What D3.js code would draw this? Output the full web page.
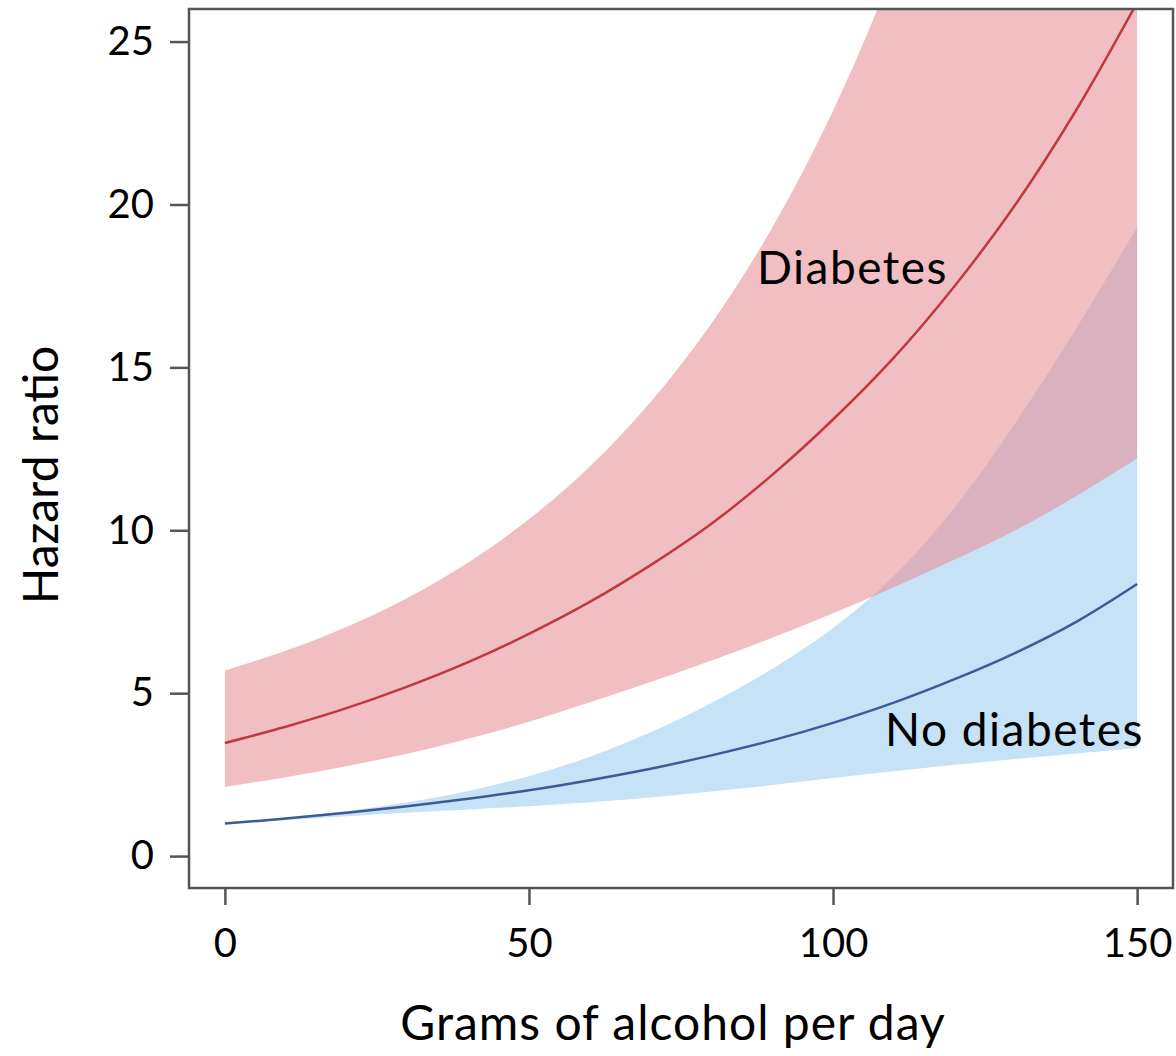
<!DOCTYPE html>
<html lang="en">
    <head>
        <meta charset="utf-8">
        <title>Hazard ratio by grams of alcohol per day</title>
        <script src="https://d3js.org/d3.v7.min.js"></script>
        <style type="text/css">
            body {
                margin: 0;
                background: #fff;
            }
            text {
                font-family: Lato, "Open Sans", sans-serif;
                fill: #000;
            }
            .axis text {
                font-size: 40px;
            }
            .axis line {
                stroke: #555;
                stroke-width: 2.5;
            }
        </style>
    </head>
    <body>
        <script type="text/javascript">
        //Data
        const grams = [0, 10, 20, 30, 40, 50, 60, 70, 80, 90, 100, 110, 120, 130, 140, 150];

        const diabetesHR = [3.47, 3.97, 4.54, 5.2, 5.95, 6.82, 7.8, 8.93, 10.2, 11.7, 13.4, 15.3, 17.5, 20.0, 22.9, 26.2];
        const diabetesLow = [2.12, 2.42, 2.76, 3.14, 3.6, 4.12, 4.72, 5.34, 6.0, 6.7, 7.45, 8.25, 9.1, 10.0, 11.05, 12.2];
        const diabetesHigh = [5.7, 6.3, 7.03, 7.92, 9.01, 10.34, 11.96, 13.94, 16.35, 19.29, 22.88, 27.26, 32.6, 39.1, 47.0, 56.6];

        const noDiabetesHR = [1.0, 1.15, 1.33, 1.53, 1.76, 2.02, 2.33, 2.68, 3.09, 3.55, 4.09, 4.71, 5.43, 6.24, 7.19, 8.35];
        const noDiabetesLow = [1.0, 1.1, 1.22, 1.33, 1.43, 1.53, 1.65, 1.8, 1.98, 2.18, 2.4, 2.6, 2.8, 2.98, 3.15, 3.32];
        const noDiabetesHigh = [1.0, 1.17, 1.38, 1.65, 2.0, 2.45, 3.05, 3.8, 4.7, 5.75, 7.0, 8.6, 10.7, 13.3, 16.2, 19.3];

        const xTicks = [0, 50, 100, 150];
        const yTicks = [0, 5, 10, 15, 20, 25];

        //Constants
        const w = 1176;
        const h = 1056;
        const plotLeft = 189, plotRight = 1173, plotTop = 9, plotBottom = 888;

        const series = [
            { name: "No diabetes", hr: noDiabetesHR, lo: noDiabetesLow, hi: noDiabetesHigh,
              band: "#c5e2f7", bandOpacity: 1, line: "#3d5a96" },
            { name: "Diabetes", hr: diabetesHR, lo: diabetesLow, hi: diabetesHigh,
              band: "#e8929a", bandOpacity: 0.6, line: "#c0393f" }
        ];

        //Scales
        const xScale = d3.scaleLinear()
                        .domain([-5.9, 155.9])
                        .range([plotLeft, plotRight]);

        const yScale = d3.scaleLinear()
                        .domain([-0.98, 26.0])
                        .range([plotBottom, plotTop]);

        //SVG
        const svg = d3.select("body")
                      .append("svg")
                      .attr("width", w)
                      .attr("height", h);

        svg.append("clipPath")
           .attr("id", "plotclip")
           .append("rect")
           .attr("x", plotLeft)
           .attr("y", plotTop)
           .attr("width", plotRight - plotLeft)
           .attr("height", plotBottom - plotTop);

        const plot = svg.append("g").attr("clip-path", "url(#plotclip)");

        //Bands
        const area = (s) => d3.area()
            .x((d, i) => xScale(grams[i]))
            .y0((d, i) => yScale(s.lo[i]))
            .y1((d, i) => yScale(s.hi[i]))
            .curve(d3.curveCatmullRom);

        series.forEach(s => {
            plot.append("path")
                .datum(grams)
                .attr("d", area(s))
                .attr("fill", s.band)
                .attr("fill-opacity", s.bandOpacity);
        });

        //Lines
        series.forEach(s => {
            const line = d3.line()
                .x((d, i) => xScale(grams[i]))
                .y((d, i) => yScale(s.hr[i]))
                .curve(d3.curveCatmullRom);
            plot.append("path")
                .datum(grams)
                .attr("d", line)
                .attr("fill", "none")
                .attr("stroke", s.line)
                .attr("stroke-width", 2.5);
        });

        //Frame
        svg.append("rect")
           .attr("x", plotLeft)
           .attr("y", plotTop)
           .attr("width", plotRight - plotLeft)
           .attr("height", plotBottom - plotTop)
           .attr("fill", "none")
           .attr("stroke", "#555")
           .attr("stroke-width", 2.5);

        //Axes
        const bottomAxis = d3.axisBottom(xScale)
                             .tickValues(xTicks)
                             .tickSize(17)
                             .tickPadding(24);

        svg.append("g")
           .attr("class", "axis")
           .attr("transform", "translate(0," + plotBottom + ")")
           .call(bottomAxis)
           .call(g => g.select(".domain").remove());

        const leftAxis = d3.axisLeft(yScale)
                           .tickValues(yTicks)
                           .tickSize(19)
                           .tickPadding(16);

        svg.append("g")
           .attr("class", "axis")
           .attr("transform", "translate(" + plotLeft + ",0)")
           .call(leftAxis)
           .call(g => g.select(".domain").remove());

        //Series labels
        svg.append("text")
           .attr("x", 757)
           .attr("y", 284)
           .attr("font-size", "46px")
           .attr("letter-spacing", "1.5px")
           .text("Diabetes");

        svg.append("text")
           .attr("x", 885)
           .attr("y", 746)
           .attr("font-size", "46px")
           .attr("letter-spacing", "1.5px")
           .text("No diabetes");

        //Axis titles
        svg.append("text")
           .attr("x", 673)
           .attr("y", 1040)
           .attr("text-anchor", "middle")
           .attr("font-size", "48px")
           .attr("letter-spacing", "1px")
           .text("Grams of alcohol per day");

        svg.append("text")
           .attr("transform", "translate(58,475) rotate(-90)")
           .attr("text-anchor", "middle")
           .attr("font-size", "48px")
           .text("Hazard ratio");
        </script>
    </body>
</html>
